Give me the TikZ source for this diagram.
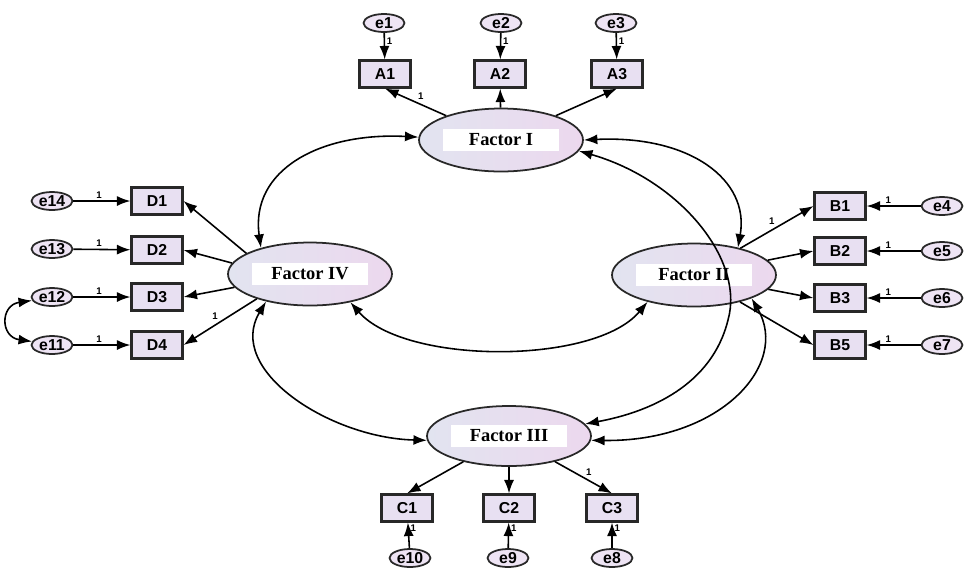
\documentclass[tikz,border=0pt]{standalone}
\usepackage{fontspec}
\setmainfont{Liberation Serif}
\setsansfont{Liberation Sans}
\usetikzlibrary{arrows.meta,shapes.geometric}
\definecolor{boxfill}{RGB}{232,224,242}
\definecolor{errfill}{RGB}{238,228,244}
\definecolor{latL}{RGB}{226,228,240}
\definecolor{latR}{RGB}{236,216,238}
\definecolor{edge}{RGB}{40,40,40}
\newcommand{\factorname}[1]{\colorbox{white}{\makebox[2.1cm]{#1}}}

\begin{document}
\begin{tikzpicture}[x=0.02cm,y=-0.02cm,
		lat/.style={ellipse,draw=edge,line width=1pt,left color=latL,right color=latR,
			minimum width=3.28cm,minimum height=1.26cm,inner sep=0pt,
			font=\rmfamily\bfseries\fontsize{10.5}{12}\selectfont},
		obs/.style={rectangle,draw=edge,line width=1.2pt,fill=boxfill,
			minimum width=1.02cm,minimum height=0.54cm,inner sep=0pt,
			font=\sffamily\bfseries\fontsize{9}{10}\selectfont},
		err/.style={ellipse,draw=edge,line width=1pt,fill=errfill,
			minimum width=0.82cm,minimum height=0.36cm,inner sep=0pt,
			font=\sffamily\bfseries\fontsize{9}{10}\selectfont},
		load/.style={-{Latex[length=2.7mm,width=2mm]},line width=0.9pt},
		cov/.style={{Latex[length=2.7mm,width=2mm]}-{Latex[length=2.7mm,width=2mm]},line width=0.9pt},
		one/.style={font=\sffamily\bfseries\fontsize{5.5}{6}\selectfont,inner sep=1pt}]
		\useasboundingbox (0,0) rectangle (967,569);
		\node[lat] (F1) at (501,140) {\factorname{Factor I}};
		\node[lat] (F2) at (694,275) {\factorname{Factor II}};
		\node[lat,minimum height=1.2cm] (F3) at (509,436) {\factorname{Factor III}};
		\node[lat] (F4) at (310,274) {\factorname{Factor IV}};
		\node[obs] (A1) at (385,74) {A1};
		\node[obs] (A2) at (500,74) {A2};
		\node[obs] (A3) at (617,74) {A3};
		\node[obs] (B1) at (840,206) {B1};
		\node[obs] (B2) at (840,251) {B2};
		\node[obs] (B3) at (840,298) {B3};
		\node[obs] (B5) at (840,345) {B5};
		\node[obs] (C1) at (407,508) {C1};
		\node[obs] (C2) at (509,508) {C2};
		\node[obs] (C3) at (612,508) {C3};
		\node[obs] (D1) at (157,201) {D1};
		\node[obs] (D2) at (157,250) {D2};
		\node[obs] (D3) at (157,297) {D3};
		\node[obs] (D4) at (157,345) {D4};
		\node[err] (e1) at (384,23) {e1};
		\node[err] (e2) at (501,23) {e2};
		\node[err] (e3) at (616,23) {e3};
		\node[err] (e4) at (942,206) {e4};
		\node[err] (e5) at (942,251) {e5};
		\node[err] (e6) at (942,298) {e6};
		\node[err] (e7) at (942,345) {e7};
		\node[err] (e8) at (612,558) {e8};
		\node[err] (e9) at (508,558) {e9};
		\node[err] (e10) at (410,558) {e10};
		\node[err] (e11) at (52,345) {e11};
		\node[err] (e12) at (52,297) {e12};
		\node[err] (e13) at (52,249) {e13};
		\node[err] (e14) at (52,201) {e14};
		\draw[load] (e1) -- (A1) node[one,pos=0.3,right] {1};
		\draw[load] (e2) -- (A2) node[one,pos=0.3,right] {1};
		\draw[load] (e3) -- (A3) node[one,pos=0.3,right] {1};
		\draw[load] (e4) -- (B1) node[one,pos=0.6,above] {1};
		\draw[load] (e5) -- (B2) node[one,pos=0.6,above] {1};
		\draw[load] (e6) -- (B3) node[one,pos=0.6,above] {1};
		\draw[load] (e7) -- (B5) node[one,pos=0.6,above] {1};
		\draw[load] (e8) -- (C3) node[one,pos=0.8,right] {1};
		\draw[load] (e9) -- (C2) node[one,pos=0.8,right] {1};
		\draw[load] (e10) -- (C1) node[one,pos=0.8,right] {1};
		\draw[load] (e11) -- (D4) node[one,pos=0.45,above] {1};
		\draw[load] (e12) -- (D3) node[one,pos=0.45,above] {1};
		\draw[load] (e13) -- (D2) node[one,pos=0.45,above] {1};
		\draw[load] (e14) -- (D1) node[one,pos=0.45,above] {1};
		\draw[load] (F1) -- (A1.south) node[one,midway,above right] {1};
		\draw[load] (F1) -- (A2);
		\draw[load] (F1) -- (A3.south);
		\draw[load] (F2) -- (B1.west) node[one,midway,above left] {1};
		\draw[load] (F2) -- (B2.west);
		\draw[load] (F2) -- (B3.west);
		\draw[load] (F2) -- (B5.west);
		\draw[load] (F3) -- (C1.north);
		\draw[load] (F3) -- (C2);
		\draw[load] (F3) -- (C3.north) node[one,midway,above right] {1};
		\draw[load] (F4.162) -- (D1.east);
		\draw[load] (F4.172) -- (D2.east);
		\draw[load] (F4.190) -- (D3.east);
		\draw[load] (F4.205) -- (D4.east) node[one,midway,above left] {1};
		\draw[cov] (F1.178) .. controls (320,132) and (250,170) .. (F4.152);
		\draw[cov] (F1.east) .. controls (690,135) and (750,180) .. (F2.32);
		\draw[cov] (F4.-35) .. controls (405,365) and (595,365) .. (F2.-150);
		\draw[cov] (F4.212) .. controls (225,370) and (330,438) .. (F3.-177);
		\draw[cov] (F2.-22) .. controls (790,365) and (720,442) .. (F3.-3);
		\draw[cov] (F1.-8) .. controls (680,180) and (745,260) .. (728,320) .. controls (712,385) and (650,412) .. (F3.9);
		\draw[cov] (e12.190) .. controls (0,305) and (0,337) .. (e11.170);
\end{tikzpicture}
\end{document}
